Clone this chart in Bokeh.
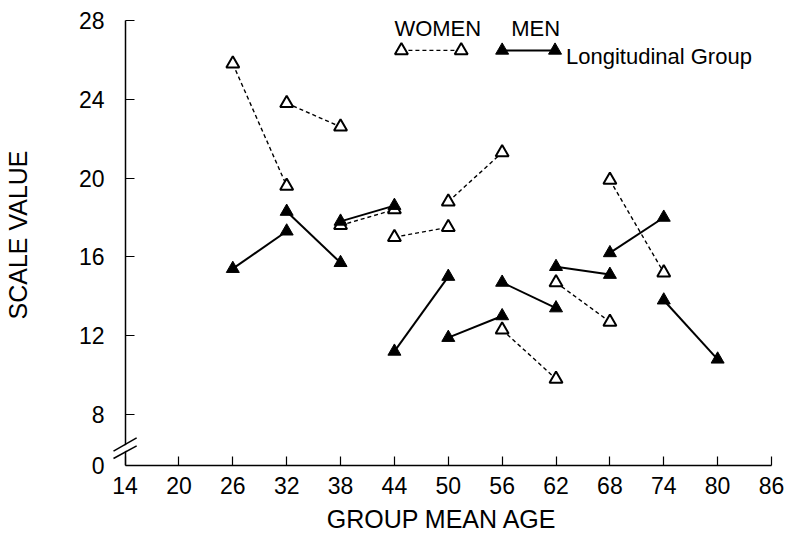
from bokeh.plotting import figure
from bokeh.models import ColumnDataSource, FixedTicker, Label, Arrow, LinearAxis
from bokeh.embed import file_html
from bokeh.resources import INLINE

# ---- data ----
x_ticks = [14, 20, 26, 32, 38, 44, 50, 56, 62, 68, 74, 80, 86]
y_ticks = [8, 12, 16, 20, 24, 28]

women_age_start = [26, 32, 38, 44, 50, 56, 62, 68]
women_age_end = [32, 38, 44, 50, 56, 62, 68, 74]
women_value_start = [25.8, 23.8, 17.6, 17.0, 18.8, 12.3, 14.7, 19.9]
women_value_end = [19.6, 22.6, 18.4, 17.5, 21.3, 9.8, 12.7, 15.2]

men_age_start = [26, 32, 38, 44, 50, 56, 62, 68, 74]
men_age_end = [32, 38, 44, 50, 56, 62, 68, 74, 80]
men_value_start = [15.4, 18.3, 17.8, 11.2, 11.9, 14.7, 15.5, 16.2, 13.8]
men_value_end = [17.3, 15.7, 18.6, 15.0, 13.0, 13.4, 15.1, 18.0, 10.8]

# ---- layout constants ----
FONT = "Liberation Sans"
X_MIN, X_MAX = 14, 86
X_FRAME_START = 12.6  # frame reaches a little left of the axis (room for break marks)
Y_ZERO_POS = 5.41     # where the "0" of the broken axis sits
Y_TOP = 28.81
Y_TICK_POS = [Y_ZERO_POS] + y_ticks

women = ColumnDataSource(dict(x0=women_age_start, x1=women_age_end,
                              y0=women_value_start, y1=women_value_end))
men = ColumnDataSource(dict(x0=men_age_start, x1=men_age_end,
                            y0=men_value_start, y1=men_value_end))

p = figure(width=784, height=538, x_range=(X_FRAME_START, X_MAX),
           y_range=(Y_ZERO_POS, Y_TOP),
           output_backend="svg", toolbar_location=None,
           min_border_left=110, min_border_right=13,
           min_border_top=4, min_border_bottom=73)
p.outline_line_color = None
p.grid.visible = False
p.background_fill_color = "white"

# x axis
xa = p.xaxis[0]
xa.ticker = FixedTicker(ticks=x_ticks)
xa.bounds = (X_MIN, X_MAX)
xa.axis_label = "GROUP MEAN AGE"
xa.major_label_standoff = 11
xa.axis_label_standoff = 8

# y axis #1: labels only (sits at the frame edge)
ya = p.yaxis[0]
ya.ticker = FixedTicker(ticks=Y_TICK_POS)
ya.major_label_overrides = {Y_ZERO_POS: "0"}
ya.axis_label = "SCALE VALUE"
ya.axis_line_color = None
ya.major_tick_line_color = None
ya.major_tick_in = 0
ya.major_label_standoff = 8
ya.axis_label_standoff = 44

# y axis #2: the visible line and ticks, at age 14
yl = LinearAxis(ticker=FixedTicker(ticks=Y_TICK_POS), fixed_location=X_MIN,
                bounds=(Y_ZERO_POS, 28),
                major_label_overrides={v: "" for v in Y_TICK_POS},
                major_label_standoff=0)
p.add_layout(yl, "left")

for ax in (xa, ya, yl):
    ax.major_tick_out = 0
    ax.minor_tick_line_color = None
    ax.major_label_text_font = FONT
    ax.major_label_text_font_size = "23px"
    ax.major_label_text_color = "black"
    ax.axis_label_text_font = FONT
    ax.axis_label_text_font_size = "25px"
    ax.axis_label_text_font_style = "normal"
    ax.axis_label_text_color = "black"
for ax in (xa, yl):
    ax.axis_line_color = "black"
    ax.axis_line_width = 1.5
    ax.major_tick_line_color = "black"
    ax.major_tick_line_width = 1.2
    ax.major_tick_in = 9

# women: open triangles, dashed
p.segment(x0="x0", y0="y0", x1="x1", y1="y1", source=women,
          line_color="black", line_width=1.4, line_dash="4 3")
for xs, ys in (("x0", "y0"), ("x1", "y1")):
    p.scatter(x=xs, y=ys, source=women, marker="triangle", size=13,
              fill_color="white", line_color="black", line_width=2)

# men: filled triangles, solid
p.segment(x0="x0", y0="y0", x1="x1", y1="y1", source=men,
          line_color="black", line_width=2)
for xs, ys in (("x0", "y0"), ("x1", "y1")):
    p.scatter(x=xs, y=ys, source=men, marker="triangle", size=13,
              fill_color="black", line_color="black", line_width=1)

# legend (drawn by hand, as in the original)
LEG_Y = 26.48
LEG_W = (44.78, 51.44)
LEG_M = (56.0, 61.89)
p.segment(x0=[LEG_W[0]], y0=[LEG_Y], x1=[LEG_W[1]], y1=[LEG_Y],
          line_color="black", line_width=1.4, line_dash="4 3")
p.scatter(x=list(LEG_W), y=[LEG_Y, LEG_Y], marker="triangle", size=13,
          fill_color="white", line_color="black", line_width=2)
p.segment(x0=[LEG_M[0]], y0=[LEG_Y], x1=[LEG_M[1]], y1=[LEG_Y],
          line_color="black", line_width=2)
p.scatter(x=list(LEG_M), y=[LEG_Y, LEG_Y], marker="triangle", size=13,
          fill_color="black", line_color="black", line_width=1)
for txt, lx, ly in (("WOMEN", 44.0, 27.59), ("MEN", 57.0, 27.59),
                    ("Longitudinal Group", 63.11, 26.17)):
    p.add_layout(Label(x=lx, y=ly, text=txt, text_font=FONT,
                       text_font_size="22px", text_color="black",
                       text_baseline="alphabetic", text_align="left"))

# axis break marks
p.add_layout(Arrow(start=None, end=None, x_start=13.5, y_start=6.153,
                   x_end=14.5, y_end=6.41, line_color="white", line_width=5))
for ys, ye in ((6.136, 6.816), (5.765, 6.41)):
    p.add_layout(Arrow(start=None, end=None, x_start=12.71, y_start=ys,
                       x_end=15.29, y_end=ye, line_color="black", line_width=1.5))

open("out.html", "w").write(file_html(p, INLINE))
